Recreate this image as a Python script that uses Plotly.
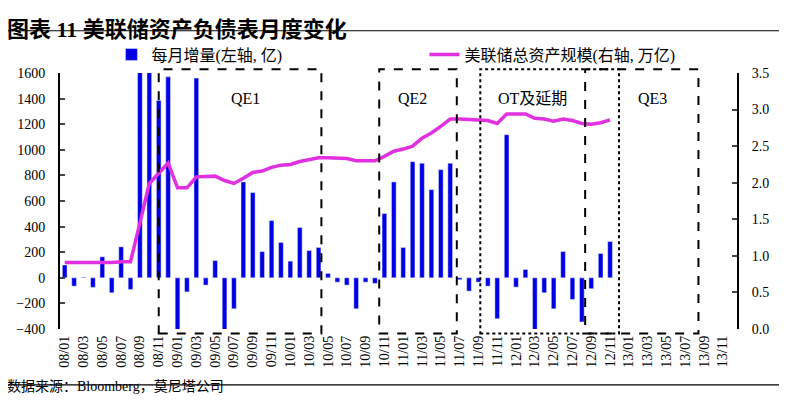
import plotly.graph_objects as go

# meses de 08/01 a 13/12
months = [f"{y:02d}/{m:02d}" for y in range(8, 14) for m in range(1, 13)]
tick_labels = months[::2]

# variação mensal (亿, eixo esquerdo) - 08/01 .. 12/11
monthly_change = [
    100, -65, 5, -75, 164, -117, 242, -91, 5600, 5700, 1385, 1570,
    -3000, -110, 1560, -57, 135, -600, -242, 749, 666, 205, 447, 276,
    130, 393, 213, 237, 34, -34, -57, -242, -34, -44, 502, 749,
    237, 907, 895, 689, 845, 895, -15, -104, -34, -65, -320, 1118,
    -73, 65, -500, -117, -242, 205, -169, -345, -85, 190, 284,
]

# ativos totais do Fed (万亿, eixo direito)
total_assets = [
    0.91, 0.91, 0.91, 0.90, 0.91, 0.91, 0.92, 0.92, 1.45, 1.99, 2.13, 2.27,
    1.93, 1.93, 2.08, 2.08, 2.09, 2.03, 1.99, 2.06, 2.14, 2.16, 2.21, 2.24,
    2.25, 2.29, 2.32, 2.34, 2.34, 2.34, 2.33, 2.30, 2.30, 2.30, 2.36, 2.43,
    2.46, 2.50, 2.61, 2.68, 2.77, 2.87, 2.87, 2.86, 2.86, 2.85, 2.81, 2.94,
    2.94, 2.94, 2.88, 2.87, 2.84, 2.87, 2.85, 2.81, 2.80, 2.82, 2.86,
]

# períodos destacados: rótulo, início, fim (índice do mês), estilo, posição do rótulo
periods = [
    ("QE1", 10.0, 27.3, "dash", 19.2),
    ("QE2", 33.45, 41.7, "dash", 36.95),
    ("OT及延期", 44.2, 58.95, "dot", 49.7),
    ("QE3", 55.35, 67.4, "dash", 62.5),
]

FONT = "Liberation Serif, Times New Roman, Noto Sans CJK SC"

fig = go.Figure()

fig.add_trace(go.Bar(
    x=months[:len(monthly_change)], y=monthly_change,
    name="每月增量(左轴, 亿)", marker_color="#0000E6", width=0.5,
))
fig.add_trace(go.Scatter(
    x=months[:len(total_assets)], y=total_assets, yaxis="y2",
    mode="lines", name="美联储总资产规模(右轴, 万亿)",
    line=dict(color="#E030E0", width=3.5),
))

# caixas tracejadas dos períodos
for label, start, end, style, xc in periods:
    fig.add_shape(type="rect", xref="x", yref="paper", x0=start, x1=end,
                  y0=-0.018, y1=1.015, line=dict(color="black", width=2, dash=style))
    fig.add_annotation(x=xc, y=0.94, xref="x", yref="paper", text=label,
                       showarrow=False, font=dict(size=16, color="black", family=FONT))

# linhas horizontais do título e da fonte
fig.add_shape(type="line", xref="paper", yref="paper", x0=-0.081, x1=1.071,
              y0=1.165, y1=1.165, line=dict(color="black", width=1.2))
fig.add_shape(type="line", xref="paper", yref="paper", x0=-0.081, x1=1.071,
              y0=-0.218, y1=-0.218, line=dict(color="black", width=1.2))

fig.add_annotation(x=-0.081, y=1.225, xref="paper", yref="paper", xanchor="left",
                   text="<b>图表 11 美联储资产负债表月度变化</b>", showarrow=False,
                   font=dict(size=22, color="black", family=FONT))
fig.add_annotation(x=-0.081, y=-0.262, xref="paper", yref="paper", xanchor="left",
                   text="数据来源：Bloomberg，莫尼塔公司", showarrow=False,
                   font=dict(size=14, color="black", family=FONT))

# a página tem margem de 8px, então a figura é um pouco menor que a janela
fig.update_layout(
    width=779, height=398,
    margin=dict(l=52, r=50, t=65, b=77, autoexpand=False),
    plot_bgcolor="white", paper_bgcolor="white",
    font=dict(family=FONT, size=14, color="black"),
    showlegend=True,
    legend=dict(orientation="h", x=0.076, y=1.072, xanchor="left", yanchor="middle",
                font=dict(size=16), entrywidth=268, entrywidthmode="pixels",
                bgcolor="rgba(0,0,0,0)"),
    bargap=0.5,
    xaxis=dict(type="category", categoryorder="array", categoryarray=months,
               range=[-0.5, 71.5], tickvals=tick_labels, tickangle=-90,
               ticks="", showline=False, showgrid=False, zeroline=False,
               tickfont=dict(size=14), ticklabelstandoff=3),
    xaxis2=dict(overlaying="x", anchor="free", position=0.2, range=[-0.5, 71.5],
                tickvals=[i - 0.5 for i in range(0, 72, 2)], showticklabels=False,
                ticks="inside", ticklen=5, tickwidth=1.5, showline=True,
                linecolor="black", linewidth=2, showgrid=False, zeroline=False),
    yaxis=dict(range=[-400, 1600], dtick=200, showline=True, linecolor="black",
               linewidth=2, ticks="inside", ticklen=5, tickwidth=1.5,
               showgrid=False, zeroline=False, ticklabelstandoff=10),
    yaxis2=dict(range=[0, 3.5], dtick=0.5, tickformat=".1f", overlaying="y",
                side="right", showline=True, linecolor="black", linewidth=2,
                ticks="inside", ticklen=5, tickwidth=1.5, showgrid=False,
                zeroline=False, ticklabelstandoff=10),
)

fig.write_html("out.html")
